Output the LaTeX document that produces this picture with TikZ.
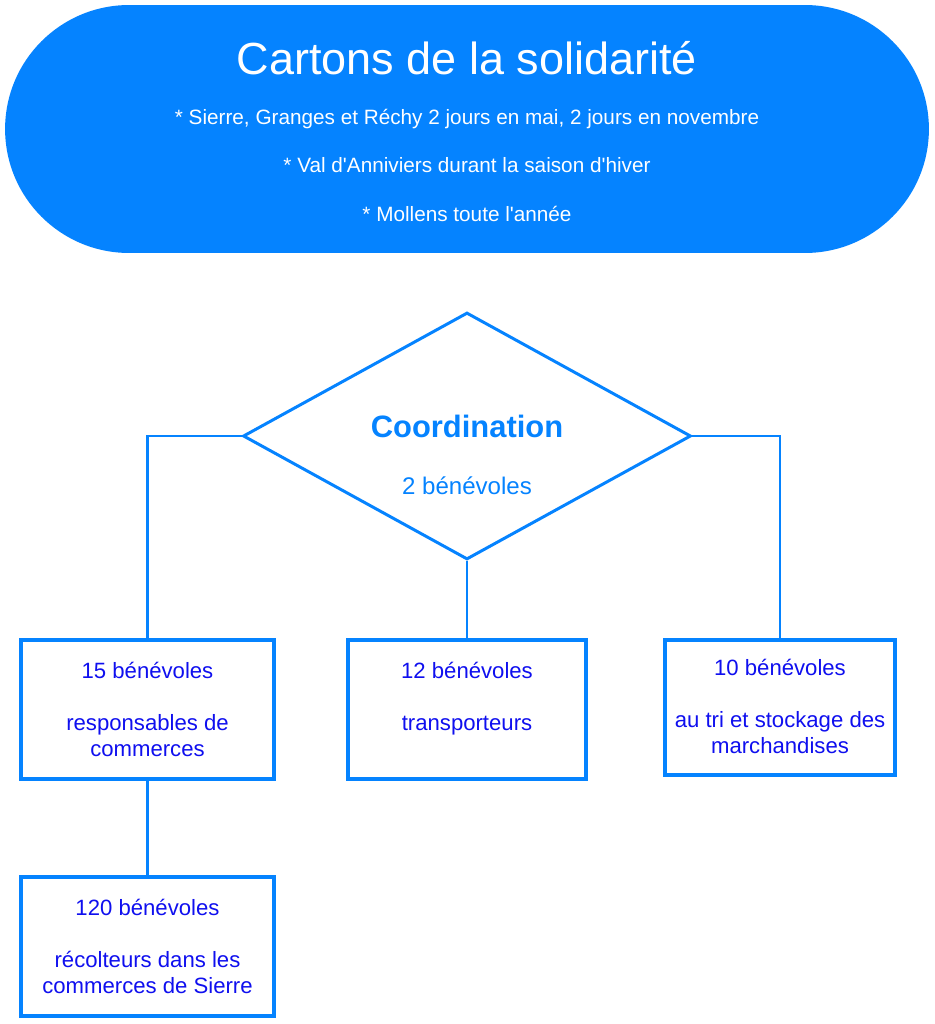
\documentclass[tikz,border=0pt]{standalone}
\usepackage{fontspec}
\setmainfont{Liberation Sans}
\usetikzlibrary{shapes.geometric}
\definecolor{azure}{HTML}{0583FF}
\definecolor{deepblue}{HTML}{0F0FEF}

\begin{document}
\begin{tikzpicture}[x=0.02cm, y=-0.02cm,
    box/.style={draw=azure, line width=2.4pt, fill=white, inner sep=0pt},
    link/.style={draw=azure, line width=1.3pt},
    boxtext/.style={deepblue, align=center, inner sep=0pt, anchor=north,
      font=\fontsize{12.6}{14.7}\selectfont}]
    \useasboundingbox (0,0) rectangle (934,1024);
    % header
    \node[fill=azure, rounded corners=2.48cm, minimum width=18.48cm, minimum height=4.96cm] (header) at (467,129) {};
    \node[white, anchor=base, font=\fontsize{25.6}{30}\selectfont] (title) at (467,75) {Cartons de la solidarité};
    \node[white, anchor=base, font=\fontsize{11.8}{14}\selectfont] (line1) at (467,125) {* Sierre, Granges et Réchy 2 jours en mai, 2 jours en novembre};
    \node[white, anchor=base, font=\fontsize{11.8}{14}\selectfont] (line2) at (467,173) {* Val d\textquotesingle Anniviers durant la saison d\textquotesingle hiver};
    \node[white, anchor=base, font=\fontsize{11.8}{14}\selectfont] (line3) at (467,221) {* Mollens toute l\textquotesingle année};
    % coordination
    \node[diamond, draw=azure, line width=1.7pt, fill=white, inner sep=0pt,
      minimum width=8.96cm, minimum height=4.94cm] (coord) at (467,436) {};
    \node[azure, anchor=base, font=\fontsize{17.6}{20}\selectfont\bfseries] (coordtitle) at (467,437) {Coordination};
    \node[azure, anchor=base, font=\fontsize{13.7}{16}\selectfont] (coordcount) at (467,494) {2 bénévoles};
    % teams
    \node[box, minimum width=5.06cm, minimum height=2.78cm] (commerces) at (147.5,709.5) {};
    \node[box, minimum width=4.76cm, minimum height=2.78cm] (transport) at (467,709.5) {};
    \node[box, minimum width=4.6cm, minimum height=2.7cm] (stockage) at (780,707.5) {};
    \node[box, minimum width=5.06cm, minimum height=2.78cm] (recolte) at (147.5,946.5) {};
    \node[boxtext] (commercestext) at (147.5,662) {15 bénévoles\\[14.7pt]responsables de\\commerces};
    \node[boxtext] (transporttext) at (467,662) {12 bénévoles\\[14.7pt]transporteurs};
    \node[boxtext] (stockagetext) at (780,659) {10 bénévoles\\[14.7pt]au tri et stockage des\\marchandises};
    \node[boxtext] (recoltetext) at (147.5,899) {120 bénévoles\\[14.7pt]récolteurs dans les\\commerces de Sierre};
    % connectors
    \draw[link] (coord.west) -| (commerces.north);
    \draw[link] (coord.south) -- (transport.north);
    \draw[link] (coord.east) -| (stockage.north);
    \draw[link] (commerces.south) -- (recolte.north);
\end{tikzpicture}
\end{document}
